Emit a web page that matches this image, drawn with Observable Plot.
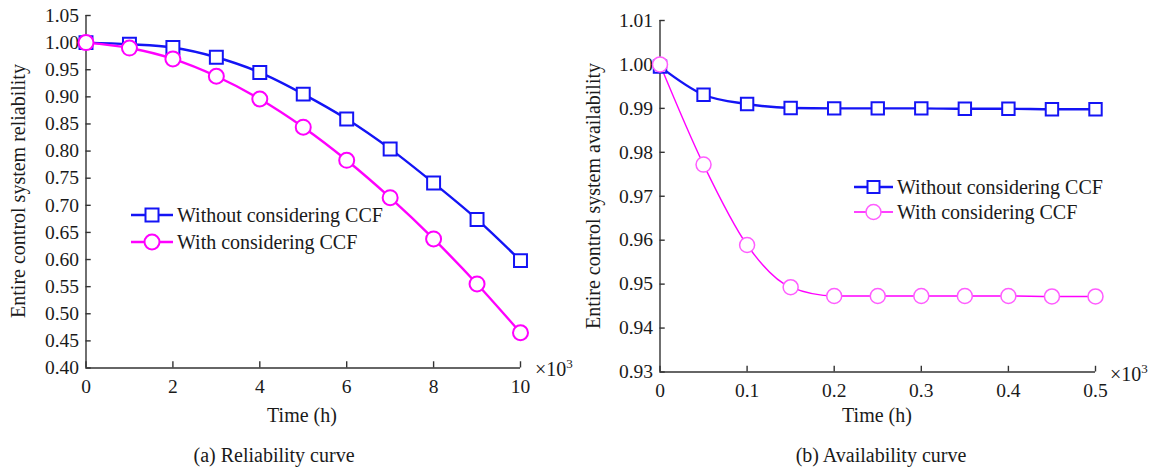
<!DOCTYPE html>
<html>
<head>
<meta charset="utf-8">
<script src="https://cdn.jsdelivr.net/npm/d3@7"></script>
<script src="https://cdn.jsdelivr.net/npm/@observablehq/plot@0.6"></script>
<style>
  html, body { margin: 0; padding: 0; background: #fff; }
  #wrap { position: relative; width: 1150px; height: 473px; font-family: "Liberation Serif", "Times New Roman", Tinos, "DejaVu Serif", serif; color: #1a1a1a; overflow: hidden; }
  .abs { position: absolute; white-space: nowrap; line-height: 1; }
  .ylab { transform: translate(-50%, -50%) rotate(-90deg); font-size: 20px; }
  .xlab { transform: translate(-50%, -50%); font-size: 20px; }
  .cap { transform: translate(-50%, -50%); font-size: 20px; }
  .mult { font-size: 20px; transform: translate(0, -50%); }
  .leg { display: flex; align-items: center; font-size: 20px; height: 24px; }
</style>
</head>
<body>
<div id="wrap"></div>
<script>
// ---------- Data ----------
const relTime = [0, 1, 2, 3, 4, 5, 6, 7, 8, 9, 10];           // ×10^3 h
const relWithout = [1.000, 0.997, 0.991, 0.973, 0.945, 0.905, 0.859, 0.804, 0.741, 0.674, 0.598];
const relWith    = [1.000, 0.990, 0.970, 0.938, 0.896, 0.844, 0.783, 0.714, 0.638, 0.555, 0.465];

const avTime = [0, 0.05, 0.1, 0.15, 0.2, 0.25, 0.3, 0.35, 0.4, 0.45, 0.5]; // ×10^3 h
const avWithout = [0.9995, 0.9931, 0.9910, 0.9901, 0.9900, 0.9900, 0.9900, 0.9899, 0.9899, 0.9898, 0.9898];
const avWith    = [1.0000, 0.9772, 0.9589, 0.9493, 0.9473, 0.9473, 0.9473, 0.9473, 0.9473, 0.9472, 0.9472];

const relXTicks = [0, 2, 4, 6, 8, 10];
const relYTicks = [0.40, 0.45, 0.50, 0.55, 0.60, 0.65, 0.70, 0.75, 0.80, 0.85, 0.90, 0.95, 1.00, 1.05];
const avXTicks = [0, 0.1, 0.2, 0.3, 0.4, 0.5];
const avYTicks = [0.93, 0.94, 0.95, 0.96, 0.97, 0.98, 0.99, 1.00, 1.01];

const seriesNames = ["Without considering CCF", "With considering CCF"];
const blue = "#1414f5";
const pink = "#ff00ff";
const pinkLight = "#ff5cff";

const wrap = document.getElementById("wrap");
const serif = "'Liberation Serif', 'Times New Roman', Tinos, 'DejaVu Serif', serif";
const font = {fontFamily: serif, fontSize: "19.5px", color: "#1a1a1a", background: "transparent"};

function rows(xs, ys) { return xs.map((x, i) => ({x, y: ys[i]})); }
const axisColor = "#333";

// ---------- Left panel: reliability ----------
const relA = rows(relTime, relWithout);
const relB = rows(relTime, relWith);
const left = Plot.plot({
  width: 570, height: 430,
  marginLeft: 85.5, marginRight: 50, marginTop: 15, marginBottom: 62.5,
  style: font,
  x: {domain: [0, 10]},
  y: {domain: [0.40, 1.05]},
  marks: [
    Plot.axisY({ticks: relYTicks, tickSize: 0, tickPadding: 7, tickFormat: d3.format(".2f"), label: null}),
    Plot.axisX({ticks: relXTicks, tickSize: 0, tickPadding: 11, tickFormat: d3.format("d"), label: null}),
    Plot.ruleX([0], {y1: 0.40, y2: 1.05, stroke: axisColor, strokeWidth: 1.4}),
    Plot.ruleY([0.40], {x1: 0, x2: 10, stroke: axisColor, strokeWidth: 1.4}),
    Plot.ruleY(relYTicks, {x1: 0, x2: 0.12, stroke: axisColor, strokeWidth: 1.4}),
    Plot.ruleX(relXTicks, {y1: 0.40, y2: 0.4115, stroke: axisColor, strokeWidth: 1.4}),
    Plot.line(relA, {x: "x", y: "y", stroke: blue, strokeWidth: 2.4, curve: "monotone-x"}),
    Plot.line(relB, {x: "x", y: "y", stroke: pink, strokeWidth: 2.4, curve: "monotone-x"}),
    Plot.dot(relA, {x: "x", y: "y", symbol: "square", r: 7.3, stroke: blue, fill: "white", strokeWidth: 2}),
    Plot.dot(relB, {x: "x", y: "y", symbol: "circle", r: 7.5, stroke: pink, fill: "white", strokeWidth: 2})
  ]
});
left.style.position = "absolute"; left.style.left = "0px"; left.style.top = "0px";
wrap.appendChild(left);

// ---------- Right panel: availability ----------
const avA = rows(avTime, avWithout);
const avB = rows(avTime, avWith);
const right = Plot.plot({
  width: 580, height: 430,
  marginLeft: 89.5, marginRight: 55, marginTop: 20, marginBottom: 58.5,
  style: font,
  x: {domain: [0, 0.5]},
  y: {domain: [0.93, 1.01]},
  marks: [
    Plot.axisY({ticks: avYTicks, tickSize: 0, tickPadding: 7, tickFormat: d3.format(".2f"), label: null}),
    Plot.axisX({ticks: avXTicks, tickSize: 0, tickPadding: 11, tickFormat: d => d === 0 ? "0" : d3.format(".1f")(d), label: null}),
    Plot.ruleX([0], {y1: 0.93, y2: 1.01, stroke: axisColor, strokeWidth: 1.4}),
    Plot.ruleY([0.93], {x1: 0, x2: 0.5, stroke: axisColor, strokeWidth: 1.4}),
    Plot.ruleY(avYTicks, {x1: 0, x2: 0.006, stroke: axisColor, strokeWidth: 1.4}),
    Plot.ruleX(avXTicks, {y1: 0.93, y2: 0.9313, stroke: axisColor, strokeWidth: 1.4}),
    Plot.line(avA, {x: "x", y: "y", stroke: blue, strokeWidth: 2.4, curve: "monotone-x"}),
    Plot.line(avB, {x: "x", y: "y", stroke: pink, strokeWidth: 1.4, curve: "monotone-x"}),
    Plot.dot(avA, {x: "x", y: "y", symbol: "square", r: 7.0, stroke: blue, fill: "white", strokeWidth: 2}),
    Plot.dot(avB, {x: "x", y: "y", symbol: "circle", r: 7.5, stroke: pinkLight, fill: "white", strokeWidth: 1.5})
  ]
});
right.style.position = "absolute"; right.style.left = "570px"; right.style.top = "0px";
wrap.appendChild(right);

// ---------- Text ----------
function addText(cls, x, y, html) {
  const d = document.createElement("div");
  d.className = "abs " + cls;
  d.style.left = x + "px"; d.style.top = y + "px";
  d.innerHTML = html;
  wrap.appendChild(d);
  return d;
}
addText("ylab", 18, 191, "Entire control system reliability");
addText("ylab", 593, 196, "Entire control system availability");
addText("xlab", 302, 415, "Time (h)");
addText("xlab", 877, 415, "Time (h)");
addText("cap", 274, 455, "(a) Reliability curve");
addText("cap", 881, 455, "(b) Availability curve");
addText("mult", 535, 368, "×10<sup style='font-size:13px'>3</sup>");
addText("mult", 1110, 373, "×10<sup style='font-size:13px'>3</sup>");

// ---------- Legends ----------
function legendItem(x, y, w, color, symbol, name, lw, mw, mcolor, size) {
  const d = document.createElement("div");
  d.className = "abs leg";
  d.style.left = x + "px"; d.style.top = (y - 12) + "px";
  const m = symbol === "square"
    ? `<rect x="${w/2-size/2}" y="${12-size/2}" width="${size}" height="${size}" fill="white" stroke="${mcolor}" stroke-width="${mw}"/>`
    : `<circle cx="${w/2}" cy="12" r="${size/2}" fill="white" stroke="${mcolor}" stroke-width="${mw}"/>`;
  d.innerHTML = `<svg width="${w}" height="24" style="margin-right:3px"><line x1="1" x2="${w-1}" y1="12" y2="12" stroke="${color}" stroke-width="${lw}"/>${m}</svg><span>${name}</span>`;
  wrap.appendChild(d);
}
legendItem(130, 215, 44, blue, "square", seriesNames[0], 2.4, 2, blue, 13);
legendItem(130, 242, 44, pink, "circle", seriesNames[1], 2.4, 2, pink, 15);
legendItem(853, 187, 41, blue, "square", seriesNames[0], 2.4, 2, blue, 12);
legendItem(853, 212, 41, pink, "circle", seriesNames[1], 1.4, 1.5, pinkLight, 15);
</script>
</body>
</html>
